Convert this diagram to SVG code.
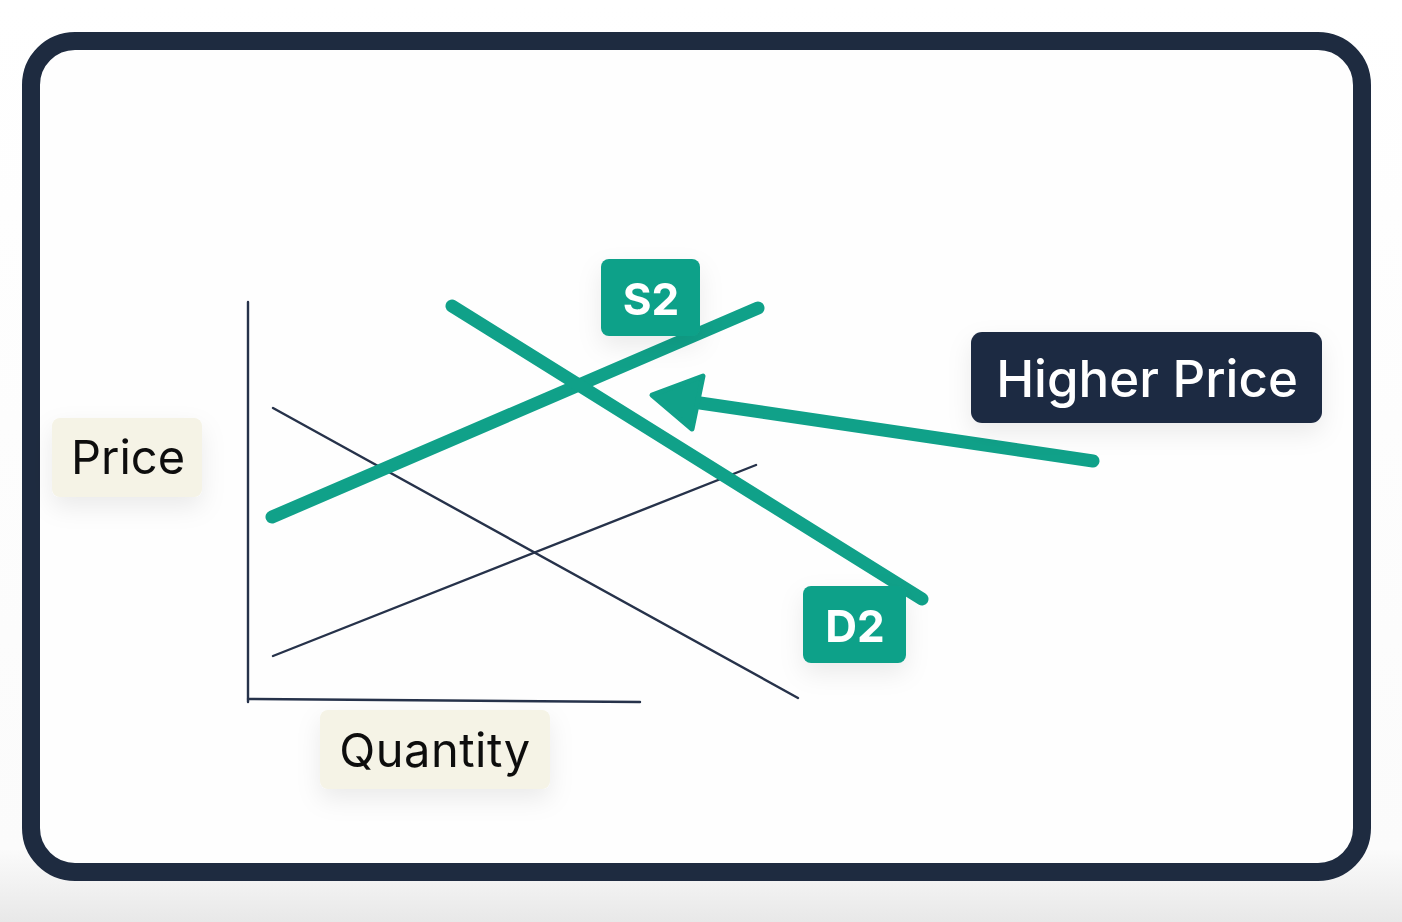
<svg xmlns="http://www.w3.org/2000/svg" width="1402" height="922" viewBox="0 0 1402 922">
<defs>
<linearGradient id="bg" x1="0" y1="0" x2="0" y2="1">
<stop offset="0" stop-color="#ffffff"/>
<stop offset="0.92" stop-color="#fbfbfb"/>
<stop offset="1" stop-color="#e8e8e8"/>
</linearGradient>
<filter id="sh" x="-30%" y="-30%" width="160%" height="180%">
<feDropShadow dx="0" dy="10" stdDeviation="12" flood-color="#000" flood-opacity="0.08"/>
</filter>
</defs>
<style>
.lbl{font-family:Inter,"Liberation Sans",sans-serif;text-anchor:middle}
.tan{fill:#f5f3e6}
.teal{fill:#10a189}
.thin{stroke:#26324a;stroke-width:2.4;fill:none;stroke-linecap:round}
.thick{stroke:#10a189;stroke-width:13;fill:none;stroke-linecap:round}
</style>
<rect width="1402" height="922" fill="url(#bg)"/>
<rect x="31" y="41" width="1331" height="831" rx="44" fill="#fefefe" stroke="#1e2b40" stroke-width="18"/>
<g id="connectors">
<line class="thin" x1="248" y1="302" x2="248" y2="702"/>
<line class="thin" x1="248" y1="699" x2="640" y2="702"/>
<line class="thin" x1="273" y1="408" x2="798" y2="698"/>
<line class="thin" x1="273" y1="656" x2="756" y2="465"/>
<line class="thick" x1="272" y1="517" x2="758" y2="308"/>
<line class="thick" x1="452" y1="306" x2="922" y2="599"/>
<path d="M1093,461 L700,403" stroke="#10a189" stroke-width="13" stroke-linecap="round" fill="none"/>
<path d="M652,395 L703,376 L692,429 Z" fill="#10a189" stroke="#10a189" stroke-width="5" stroke-linejoin="round"/>
</g>
<g id="price" filter="url(#sh)">
<rect class="tan" x="52" y="418" width="150" height="79" rx="8"/>
<text class="lbl" x="128" y="474" font-size="47" fill="#111">Price</text>
</g>
<g id="quantity" filter="url(#sh)">
<rect class="tan" x="320" y="710" width="230" height="79" rx="8"/>
<text class="lbl" x="435" y="767" font-size="47" letter-spacing="0.5" fill="#111">Quantity</text>
</g>
<g id="s2" filter="url(#sh)">
<rect class="teal" x="601" y="259" width="99" height="77" rx="8"/>
<text class="lbl" x="651" y="315" font-size="44" font-weight="bold" fill="#fff">S2</text>
</g>
<g id="d2" filter="url(#sh)">
<rect class="teal" x="803" y="586" width="103" height="77" rx="8"/>
<text class="lbl" x="855" y="642" font-size="44" font-weight="bold" fill="#fff">D2</text>
</g>
<g id="higher-price" filter="url(#sh)">
<rect x="971" y="332" width="351" height="91" rx="11" fill="#1e2b43"/>
<text class="lbl" x="1147" y="397" font-size="51" font-weight="500" fill="#fff">Higher Price</text>
</g>
</svg>
